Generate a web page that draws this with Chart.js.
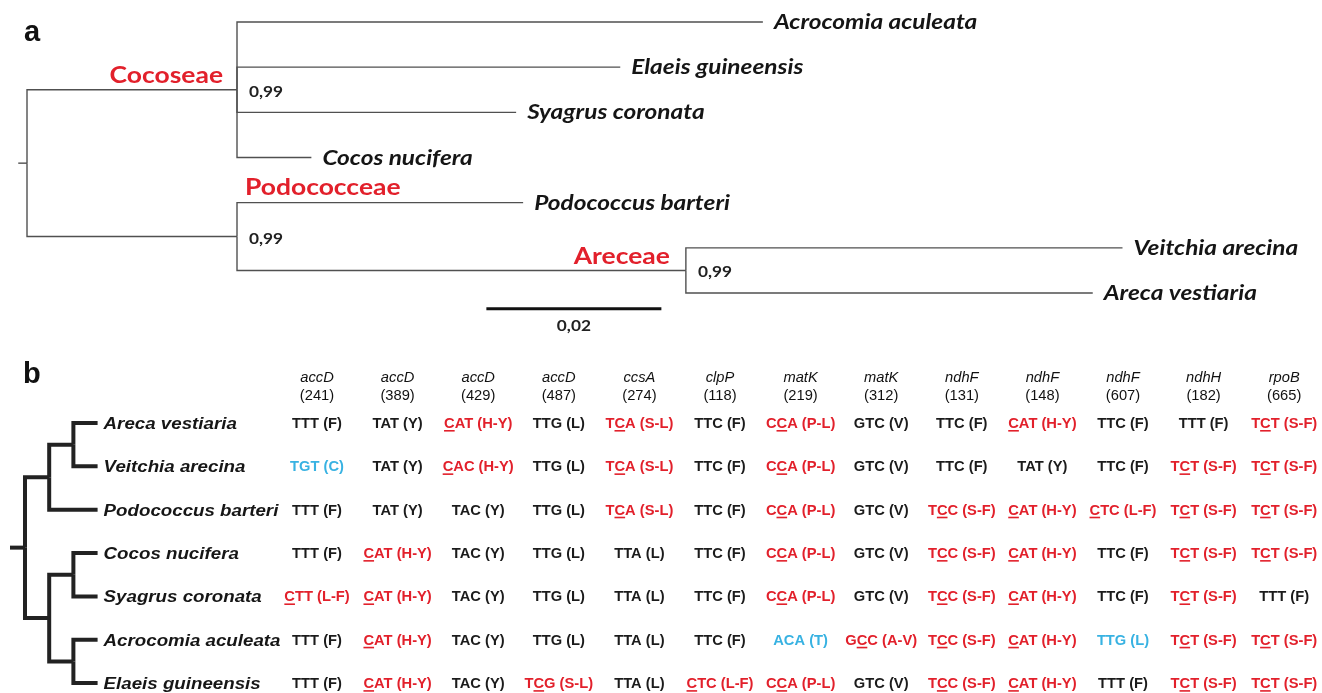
<!DOCTYPE html>
<html>
<head>
<meta charset="utf-8">
<script src="https://cdn.jsdelivr.net/npm/chart.js@4.4.1/dist/chart.umd.min.js"></script>
<style>
  html, body { margin: 0; padding: 0; background: #fff; }
  #wrap { position: relative; width: 1322px; height: 693px; overflow: hidden; }
  canvas { position: absolute; left: 0; }
  #treeA { top: 0; }
  #treeB { top: 345px; }
</style>
</head>
<body>
<div id="wrap">
  <canvas id="treeA" width="1322" height="345"></canvas>
  <canvas id="treeB" width="1322" height="348"></canvas>
</div>
<script>
// ---- panel a: phylogram (branch lengths in substitutions/site) ----
const leavesA = ['Acrocomia aculeata', 'Elaeis guineensis', 'Syagrus coronata', 'Cocos nucifera',
                 'Podococcus barteri', 'Veitchia arecina', 'Areca vestiaria'];
const leafLenA = [0.0601, 0.0438, 0.0319, 0.0085, 0.0327, 0.0499, 0.0465];
const leafParentA = [1, 1, 1, 1, 2, 3, 3];
// internal nodes: 0 root, 1 Cocoseae, 2 Podococceae + Areceae, 3 Areceae
const nodeParentA = [-1, 0, 0, 2];
const nodeLenA = [0, 0.0240, 0.0240, 0.0513];
const supportA = ['', '0,99', '0,99', '0,99'];
const tribesA = ['Cocoseae', 'Podococceae', 'Areceae'];
const scaleBarA = 0.02;

// ---- panel b: cladogram + amino acid changes ----
const leavesB = ['Areca vestiaria', 'Veitchia arecina', 'Podococcus barteri', 'Cocos nucifera',
                 'Syagrus coronata', 'Acrocomia aculeata', 'Elaeis guineensis'];
const leafParentB = [2, 2, 1, 4, 4, 5, 5];
const nodeParentB = [-1, 0, 1, 0, 3, 3];
const genes = ['accD', 'accD', 'accD', 'accD', 'ccsA', 'clpP', 'matK', 'matK', 'ndhF', 'ndhF', 'ndhF', 'ndhH', 'rpoB'];
const sites = [241, 389, 429, 487, 274, 118, 219, 312, 131, 148, 607, 182, 665];
// "_" marks the changed (underlined) base, "~" marks the blue codons
const codons = [
  ['TTT (F)', 'TAT (Y)', '_CAT (H-Y)', 'TTG (L)', 'T_CA (S-L)', 'TTC (F)', 'C_CA (P-L)', 'GTC (V)', 'TTC (F)', '_CAT (H-Y)', 'TTC (F)', 'TTT (F)', 'T_CT (S-F)'],
  ['~TGT (C)', 'TAT (Y)', '_CAC (H-Y)', 'TTG (L)', 'T_CA (S-L)', 'TTC (F)', 'C_CA (P-L)', 'GTC (V)', 'TTC (F)', 'TAT (Y)', 'TTC (F)', 'T_CT (S-F)', 'T_CT (S-F)'],
  ['TTT (F)', 'TAT (Y)', 'TAC (Y)', 'TTG (L)', 'T_CA (S-L)', 'TTC (F)', 'C_CA (P-L)', 'GTC (V)', 'T_CC (S-F)', '_CAT (H-Y)', '_CTC (L-F)', 'T_CT (S-F)', 'T_CT (S-F)'],
  ['TTT (F)', '_CAT (H-Y)', 'TAC (Y)', 'TTG (L)', 'TTA (L)', 'TTC (F)', 'C_CA (P-L)', 'GTC (V)', 'T_CC (S-F)', '_CAT (H-Y)', 'TTC (F)', 'T_CT (S-F)', 'T_CT (S-F)'],
  ['_CTT (L-F)', '_CAT (H-Y)', 'TAC (Y)', 'TTG (L)', 'TTA (L)', 'TTC (F)', 'C_CA (P-L)', 'GTC (V)', 'T_CC (S-F)', '_CAT (H-Y)', 'TTC (F)', 'T_CT (S-F)', 'TTT (F)'],
  ['TTT (F)', '_CAT (H-Y)', 'TAC (Y)', 'TTG (L)', 'TTA (L)', 'TTC (F)', '~ACA (T)', 'G_CC (A-V)', 'T_CC (S-F)', '_CAT (H-Y)', '~TTG (L)', 'T_CT (S-F)', 'T_CT (S-F)'],
  ['TTT (F)', '_CAT (H-Y)', 'TAC (Y)', 'T_CG (S-L)', 'TTA (L)', '_CTC (L-F)', 'C_CA (P-L)', 'GTC (V)', 'T_CC (S-F)', '_CAT (H-Y)', 'TTT (F)', 'T_CT (S-F)', 'T_CT (S-F)']
];

const RED = '#e2202b', BLUE = '#38b2e2', INK = '#1b1b1b';

// x/y of every node and leaf; node y is the midpoint of its outermost children
function layoutTree(leafParent, leafLen, nodeParent, nodeLen) {
  const nodeX = [], nodeY = [];
  nodeParent.forEach((p, i) => { nodeX[i] = p < 0 ? 0 : nodeX[p] + nodeLen[i]; });
  const leafX = leafLen.map((l, i) => nodeX[leafParent[i]] + l);
  const leafY = leafParent.map((_, i) => i);
  for (let i = nodeParent.length - 1; i >= 0; i--) {
    const ys = [];
    leafParent.forEach((p, j) => { if (p === i) ys.push(leafY[j]); });
    nodeParent.forEach((p, j) => { if (p === i) ys.push(nodeY[j]); });
    nodeY[i] = (Math.min(...ys) + Math.max(...ys)) / 2;
  }
  return { nodeX, nodeY, leafX, leafY };
}

// one elbow path per branch: down/up the parent's vertical, then across
function branchSets(t, leafParent, nodeParent, stub, style) {
  const sets = [];
  const elbow = (px, py, x, y) => ({ data: [{ x: px, y: py }, { x: px, y: y }, { x: x, y: y }], ...style });
  nodeParent.forEach((p, i) => {
    if (p >= 0) sets.push(elbow(t.nodeX[p], t.nodeY[p], t.nodeX[i], t.nodeY[i]));
  });
  leafParent.forEach((p, i) => sets.push(elbow(t.nodeX[p], t.nodeY[p], t.leafX[i], t.leafY[i])));
  sets.push({ data: [{ x: -stub, y: t.nodeY[0] }, { x: 0, y: t.nodeY[0] }], ...style });
  return sets;
}

// text with an optional horizontal stretch (sx)
function drawText(ctx, str, x, y, font, color, align, sx) {
  ctx.save();
  ctx.font = font;
  ctx.fillStyle = color;
  ctx.textBaseline = 'alphabetic';
  const w = ctx.measureText(str).width * sx;
  const left = align === 'center' ? x - w / 2 : align === 'right' ? x - w : x;
  ctx.translate(left, y);
  ctx.scale(sx, 1);
  ctx.textAlign = 'left';
  ctx.fillText(str, 0, 0);
  ctx.restore();
  return left;
}

const baseOptions = (xs, ys) => ({
  responsive: false,
  animation: false,
  events: [],
  devicePixelRatio: 1,
  layout: { padding: 0 },
  plugins: { legend: { display: false }, tooltip: { enabled: false } },
  scales: Object.assign({}, xs, ys)
});

// ---------- panel a ----------
const tA = layoutTree(leafParentA, leafLenA, nodeParentA, nodeLenA);
const styleA = { showLine: true, borderColor: '#505050', borderWidth: 1.4, pointRadius: 0, borderJoinStyle: 'miter', borderCapStyle: 'butt' };
const setsA = branchSets(tA, leafParentA, nodeParentA, 0.001, styleA);
const barStart = 0.0525, barRow = 6.35;
setsA.push({ data: [{ x: barStart, y: barRow }, { x: barStart + scaleBarA, y: barRow }],
  showLine: true, borderColor: '#111', borderWidth: 3, pointRadius: 0, borderCapStyle: 'butt' });

const labelsA = {
  id: 'labelsA',
  afterDatasetsDraw(chart) {
    const ctx = chart.ctx, X = chart.scales.x, Y = chart.scales.y;
    const px = v => X.getPixelForValue(v), py = v => Y.getPixelForValue(v);
    drawText(ctx, 'a', 24, 41, 'bold 29px "Liberation Sans", Arial', '#111', 'left', 1);
    leavesA.forEach((name, i) => {
      drawText(ctx, name, px(tA.leafX[i]) + 11, py(tA.leafY[i]) + 7, 'italic bold 20px Lato', '#151515', 'left', 1.22);
    });
    supportA.forEach((s, i) => {
      if (s) drawText(ctx, s, px(tA.nodeX[i]) + 12, py(tA.nodeY[i]) + 7, 'bold 16px Lato', '#222', 'left', 1.08);
    });
    const tribeFont = 'bold 23px Lato';
    drawText(ctx, tribesA[0], px(tA.nodeX[1]) - 14, py(tA.nodeY[1]) - 7, tribeFont, RED, 'right', 1.15);
    drawText(ctx, tribesA[1], px(tA.nodeX[2]) + 8, py(tA.leafY[4]) - 8, tribeFont, RED, 'left', 1.15);
    drawText(ctx, tribesA[2], px(tA.nodeX[3]) - 16, py(tA.nodeY[3]) - 6, tribeFont, RED, 'right', 1.15);
    drawText(ctx, String(scaleBarA).replace('.', ','), px(barStart + scaleBarA / 2), py(barRow) + 22, 'bold 16px Lato', '#222', 'center', 1.08);
  }
};

new Chart(document.getElementById('treeA'), {
  type: 'scatter',
  data: { datasets: setsA },
  options: baseOptions(
    { x: { type: 'linear', display: false, min: -0.003086, max: 0.1480 } },
    { y: { type: 'linear', display: false, reverse: true, min: -0.487, max: 7.151 } }
  ),
  plugins: [labelsA]
});

// ---------- panel b ----------
const depthB = [];
nodeParentB.forEach((p, i) => { depthB[i] = p < 0 ? 0 : depthB[p] + 1; });
const leafDepth = Math.max(...depthB) + 1;
const tB = layoutTree(leafParentB, leafParentB.map(p => leafDepth - depthB[p]),
                      nodeParentB, nodeParentB.map(p => (p < 0 ? 0 : 1)));
const styleB = { showLine: true, borderColor: '#222', borderWidth: 4, pointRadius: 0, borderJoinStyle: 'miter', borderCapStyle: 'butt' };
const setsB = branchSets(tB, leafParentB, nodeParentB, 0.62, styleB);

const tableB = {
  id: 'tableB',
  afterDatasetsDraw(chart) {
    const ctx = chart.ctx, X = chart.scales.x, C = chart.scales.col, Y = chart.scales.y;
    drawText(ctx, 'b', 23, 38, 'bold 29px "Liberation Sans", Arial', '#111', 'left', 1);
    leavesB.forEach((name, i) => {
      drawText(ctx, name, X.getPixelForValue(leafDepth) + 6, Y.getPixelForValue(i) + 6,
        'italic bold 16px "Liberation Sans", Arial', '#161616', 'left', 1.17);
    });
    genes.forEach((g, j) => {
      const cx = C.getPixelForValue(j);
      drawText(ctx, g, cx, Y.getPixelForValue(-1.05) + 5, 'italic 14px "Liberation Sans", Arial', '#111', 'center', 1.05);
      drawText(ctx, '(' + sites[j] + ')', cx, Y.getPixelForValue(-0.64) + 5, '14px "Liberation Sans", Arial', '#111', 'center', 1.05);
    });
    const font = 'bold 14px "Liberation Sans", Arial', sx = 1.05;
    codons.forEach((row, i) => {
      const base = Y.getPixelForValue(i) + 5;
      row.forEach((cell, j) => {
        const blue = cell.startsWith('~');
        const u = cell.indexOf('_');
        const text = cell.replace(/[~_]/g, '');
        const color = u >= 0 ? RED : blue ? BLUE : INK;
        const left = drawText(ctx, text, C.getPixelForValue(j), base, font, color, 'center', sx);
        if (u >= 0) {
          ctx.save();
          ctx.font = font;
          const x0 = left + ctx.measureText(text.slice(0, u)).width * sx;
          const w = ctx.measureText(text[u]).width * sx;
          ctx.fillStyle = color;
          ctx.fillRect(x0, base + 2, w, 1.6);
          ctx.restore();
        }
      });
    });
  }
};

new Chart(document.getElementById('treeB'), {
  type: 'scatter',
  data: { datasets: setsB },
  options: baseOptions(
    {
      x: { type: 'linear', display: false, min: -1.033, max: 53.6 },
      col: { type: 'linear', axis: 'x', display: false, min: -3.933, max: 12.469 }
    },
    { y: { type: 'linear', display: false, reverse: true, min: -1.799, max: 6.228 } }
  ),
  plugins: [tableB]
});
</script>
</body>
</html>
